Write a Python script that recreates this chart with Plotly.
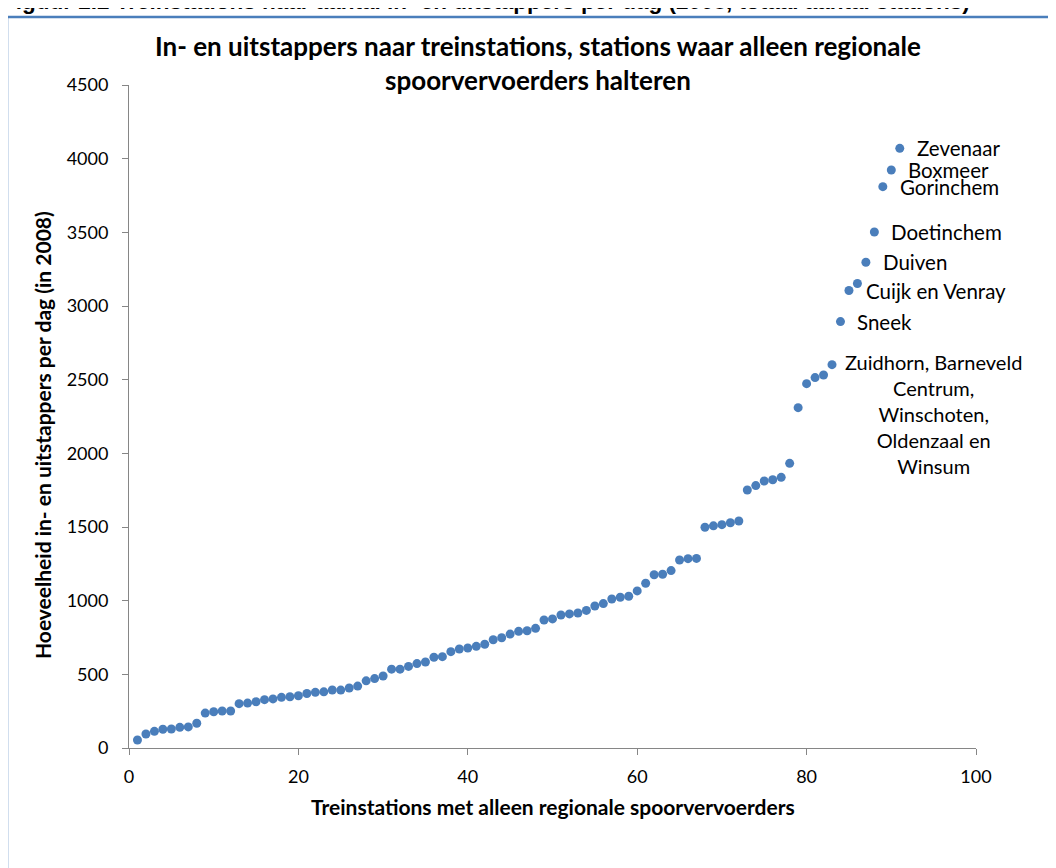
import plotly.graph_objects as go

# --- data ---
values = [54, 95, 113, 127, 129, 140, 143, 168, 237, 246,
          251, 251, 301, 305, 314, 328, 333, 344, 348, 355,
          370, 378, 381, 394, 393, 407, 420, 456, 471, 489,
          535, 535, 554, 573, 584, 616, 620, 654, 672, 679,
          690, 704, 735, 748, 773, 792, 796, 812, 869, 876,
          903, 910, 916, 934, 964, 980, 1011, 1023, 1030, 1066,
          1118, 1176, 1179, 1204, 1276, 1285, 1287, 1498, 1508, 1516,
          1529, 1541, 1751, 1781, 1812, 1821, 1837, 1932, 2310, 2473,
          2514, 2532, 2602, 2894, 3105, 3153, 3297, 3502, 3810, 3923,
          4070]
stations = list(range(1, len(values) + 1))

label_texts = ["Zevenaar", "Boxmeer", "Gorinchem", "Doetinchem", "Duiven",
               "Cuijk en Venray", "Sneek"]
label_station = [91, 90, 89, 88, 87, 85, 84]
block_text = "Zuidhorn, Barneveld<br>Centrum,<br>Winschoten,<br>Oldenzaal en<br>Winsum"
block_station = 83

x_ticks = [0, 20, 40, 60, 80, 100]
y_ticks = [0, 500, 1000, 1500, 2000, 2500, 3000, 3500, 4000, 4500]

title_text = "In- en uitstappers naar treinstations, stations waar alleen regionale<br>spoorvervoerders halteren"
x_title = "Treinstations met alleen regionale spoorvervoerders"
y_title = "Hoeveelheid in- en uitstappers per dag (in 2008)"
caption = "Figuur 2.2 Treinstations naar aantal in- en uitstappers per dag (2008, totaal aantal stations)"

FONT = "Lato"
BLUE = "#4A7EBB"

# plot area in page pixels (page has an 8px body margin)
PL, PR, PT, PB = 129, 976, 85, 748
OFF = 8


def px(xp):
    return (xp - PL) / (PR - PL)


def py(yp):
    return (PB - yp) / (PB - PT)


fig = go.Figure()
fig.add_trace(go.Scatter(
    x=stations, y=values, mode="markers",
    marker=dict(size=9, color=BLUE),
    hoverinfo="x+y", showlegend=False,
))

annotations = []
for t, s in zip(label_texts, label_station):
    annotations.append(dict(
        x=s, y=values[s - 1], xref="x", yref="y", text=t, showarrow=False,
        xanchor="left", yanchor="middle", xshift=15,
        font=dict(family=FONT, size=20.5, color="#000000"),
    ))
annotations.append(dict(
    x=block_station, y=values[block_station - 1], xref="x", yref="y",
    text=block_text, showarrow=False, align="center",
    xanchor="left", yanchor="top", xshift=11, yshift=17,
    font=dict(family=FONT, size=20, color="#000000"),
))
# title
annotations.append(dict(
    x=px(537.5), y=py(63.5), xref="paper", yref="paper",
    text=title_text, showarrow=False, xanchor="center", yanchor="middle",
    font=dict(family=FONT, size=26, color="#000000", weight="bold"),
))
# axis titles
annotations.append(dict(
    x=px(553), y=py(807), xref="paper", yref="paper",
    text=x_title, showarrow=False, xanchor="center", yanchor="middle",
    font=dict(family=FONT, size=21, color="#000000", weight="bold"),
))
annotations.append(dict(
    x=px(42), y=py(435), xref="paper", yref="paper",
    text=y_title, showarrow=False, textangle=-90, xanchor="center", yanchor="middle",
    font=dict(family=FONT, size=21, color="#000000", weight="bold"),
))
# page caption (cut off at the top edge)
annotations.append(dict(
    x=px(0), y=py(1), xref="paper", yref="paper",
    text=caption, showarrow=False, xanchor="left", yanchor="middle",
    font=dict(family="Liberation Sans", size=22.5, color="#000000", weight="bold"),
))

fig.update_layout(
    width=1056, height=868,
    margin=dict(l=PL - OFF, r=1056 + OFF - PR, t=PT - OFF, b=868 + OFF - PB),
    paper_bgcolor="white", plot_bgcolor="white",
    annotations=annotations,
    xaxis=dict(range=[0, 100], tickvals=x_ticks, showgrid=False, zeroline=False,
               showline=True, linecolor="#868686", linewidth=1,
               ticks="outside", ticklen=6, tickcolor="#868686",
               ticklabelstandoff=6,
               tickfont=dict(family=FONT, size=18, color="#000000")),
    yaxis=dict(range=[0, 4500], tickvals=y_ticks, showgrid=False, zeroline=False,
               showline=True, linecolor="#868686", linewidth=1,
               ticks="outside", ticklen=6, tickcolor="#868686",
               ticklabelstandoff=10,
               tickfont=dict(family=FONT, size=18, color="#000000")),
    shapes=[dict(type="rect", xref="paper", yref="paper",
                 x0=px(7), x1=px(1200), y0=py(1000), y1=py(17),
                 line=dict(color=BLUE, width=2.5), layer="above")],
)

fig.write_html("out.html")
